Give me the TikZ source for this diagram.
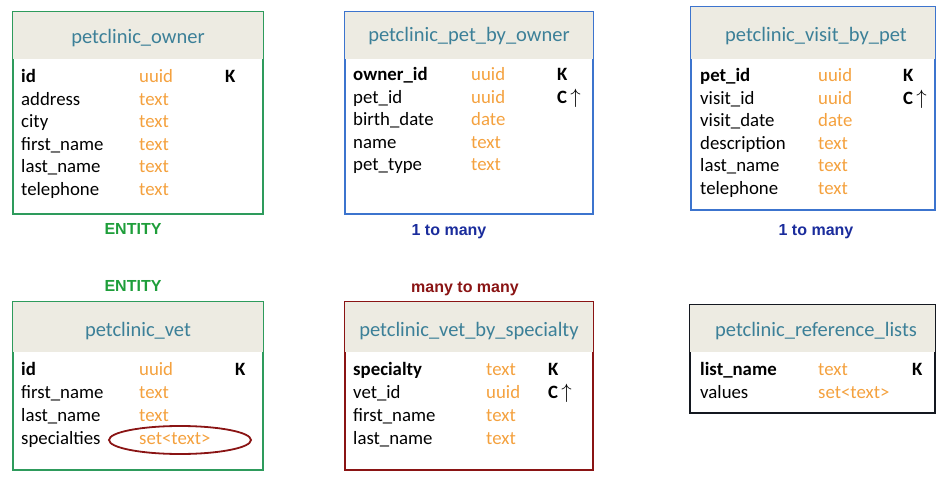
\documentclass[tikz,border=0pt]{standalone}
\usepackage{fontspec}
\setmainfont{Carlito}
\newfontfamily\labelfont{Liberation Sans}
\usetikzlibrary{calc}

\definecolor{headfill}{HTML}{EDEBE2}
\definecolor{titleblue}{HTML}{3C8098}
\definecolor{typeorange}{HTML}{F4A13E}
\definecolor{entgreen}{HTML}{2E9B5C}
\definecolor{lblgreen}{HTML}{1E9E3A}
\definecolor{tblblue}{HTML}{3C74CE}
\definecolor{lblblue}{HTML}{1A2C9C}
\definecolor{tblred}{HTML}{8A1414}
\definecolor{tblblack}{HTML}{141820}

\newcommand{\clustarrow}{C\,{\fontsize{20.74}{24}\selectfont$\uparrow$}}

\begin{document}
\begin{tikzpicture}[
      x=1pt,y=-1pt,
      tbl/.style={draw,line width=2.2pt,inner sep=0pt},
      head/.style={fill=headfill},
      title/.style={anchor=base,text=titleblue,font=\fontsize{20.5}{22}\selectfont},
      field/.style={anchor=base west,inner sep=0pt,font=\fontsize{18.8}{21}\selectfont},
      ftype/.style={field,text=typeorange},
      fkey/.style={field,font=\fontsize{18.8}{21}\selectfont\bfseries},
      rel/.style={anchor=base,inner sep=0pt,font=\labelfont\bfseries\fontsize{16}{18}\selectfont},
    ]
    \useasboundingbox (0,0) rectangle (950,481);
    % Frames of the six tables.
    \node[tbl,draw=entgreen,minimum width=250pt,minimum height=202pt] (owner) at (138,113) {};
    \node[tbl,draw=tblblue,minimum width=248pt,minimum height=202pt] (pet) at (469,113) {};
    \node[tbl,draw=tblblue,minimum width=244pt,minimum height=203pt] (visit) at (813,108.5) {};
    \node[tbl,draw=entgreen,minimum width=250pt,minimum height=168pt] (vet) at (138,386) {};
    \node[tbl,draw=tblred,minimum width=248pt,minimum height=168pt] (spec) at (469,386) {};
    \node[tbl,draw=tblblack,minimum width=245pt,minimum height=108pt] (ref) at (812.5,359) {};
    % Header bands.
    \fill[head] ([shift={(1pt,-1pt)}]owner.north west) rectangle ([shift={(-1pt,-48pt)}]owner.north east);
    \fill[head] ([shift={(1pt,-1pt)}]pet.north west) rectangle ([shift={(-1pt,-48pt)}]pet.north east);
    \fill[head] ([shift={(1pt,-1pt)}]visit.north west) rectangle ([shift={(-1pt,-53pt)}]visit.north east);
    \fill[head] ([shift={(1pt,-1pt)}]vet.north west) rectangle ([shift={(-1pt,-51pt)}]vet.north east);
    \fill[head] ([shift={(1pt,-1pt)}]spec.north west) rectangle ([shift={(-1pt,-51pt)}]spec.north east);
    \fill[head] ([shift={(1pt,-1pt)}]ref.north west) rectangle ([shift={(-1pt,-48pt)}]ref.north east);
    % Table titles.
    \node[title] (owner_title) at (138,44) {petclinic\_owner};
    \node[title] (pet_title) at (469,42) {petclinic\_pet\_by\_owner};
    \node[title] (visit_title) at (816,42) {petclinic\_visit\_by\_pet};
    \node[title] (vet_title) at (138,336) {petclinic\_vet};
    \node[title] (spec_title) at (469,336) {petclinic\_vet\_by\_specialty};
    \node[title] (ref_title) at (816,336) {petclinic\_reference\_lists};

    % petclinic_owner
    \foreach \n/\t [count=\i] in {{\textbf{id}}/uuid,address/text,city/text,
        first\_name/text,last\_name/text,telephone/text}{
      \node[field] (owner_n\i) at (21,60+22.6*\i) {\n};
      \node[ftype] (owner_t\i) at (139,60+22.6*\i) {\t};
    }
    \node[fkey] (owner_k) at (225,82.6) {K};

    % petclinic_pet_by_owner
    \foreach \n/\t [count=\i] in {{\textbf{owner\_id}}/uuid,pet\_id/uuid,
        birth\_date/date,name/text,pet\_type/text}{
      \node[field] (pet_n\i) at (353,58+22.6*\i) {\n};
      \node[ftype] (pet_t\i) at (471,58+22.6*\i) {\t};
    }
    \node[fkey] (pet_k) at (557,80.6) {K};
    \node[fkey] (pet_c) at (557,103.2) {\clustarrow};

    % petclinic_visit_by_pet
    \foreach \n/\t [count=\i] in {{\textbf{pet\_id}}/uuid,visit\_id/uuid,
        visit\_date/date,description/text,last\_name/text,telephone/text}{
      \node[field] (visit_n\i) at (700,59+22.6*\i) {\n};
      \node[ftype] (visit_t\i) at (818,59+22.6*\i) {\t};
    }
    \node[fkey] (visit_k) at (903,81.6) {K};
    \node[fkey] (visit_c) at (903,104.2) {\clustarrow};

    % petclinic_vet
    \foreach \n/\t [count=\i] in {{\textbf{id}}/uuid,first\_name/text,
        last\_name/text,specialties/set<text>}{
      \node[field] (vet_n\i) at (21,352+23*\i) {\n};
      \node[ftype] (vet_t\i) at (139,352+23*\i) {\t};
    }
    \node[fkey] (vet_k) at (235,375) {K};
    \draw[tblred,line width=1.8pt] (180,440) ellipse [x radius=71,y radius=14];

    % petclinic_vet_by_specialty
    \foreach \n/\t [count=\i] in {{\textbf{specialty}}/text,vet\_id/uuid,
        first\_name/text,last\_name/text}{
      \node[field] (spec_n\i) at (353,352+23*\i) {\n};
      \node[ftype] (spec_t\i) at (486,352+23*\i) {\t};
    }
    \node[fkey] (spec_k) at (548,375) {K};
    \node[fkey] (spec_c) at (548,398) {\clustarrow};

    % petclinic_reference_lists
    \foreach \n/\t [count=\i] in {{\textbf{list\_name}}/text,values/set<text>}{
      \node[field] (ref_n\i) at (700,352+23*\i) {\n};
      \node[ftype] (ref_t\i) at (818,352+23*\i) {\t};
    }
    \node[fkey] (ref_k) at (912,375) {K};

    % Relation labels.
    \node[rel,text=lblgreen] (owner_rel) at (133,234) {ENTITY};
    \node[rel,text=lblblue] (pet_rel) at (449,235) {1 to many};
    \node[rel,text=lblblue] (visit_rel) at (816,235) {1 to many};
    \node[rel,text=lblgreen] (vet_rel) at (133,291) {ENTITY};
    \node[rel,text=tblred] (spec_rel) at (465,292) {many to many};
\end{tikzpicture}
\end{document}
